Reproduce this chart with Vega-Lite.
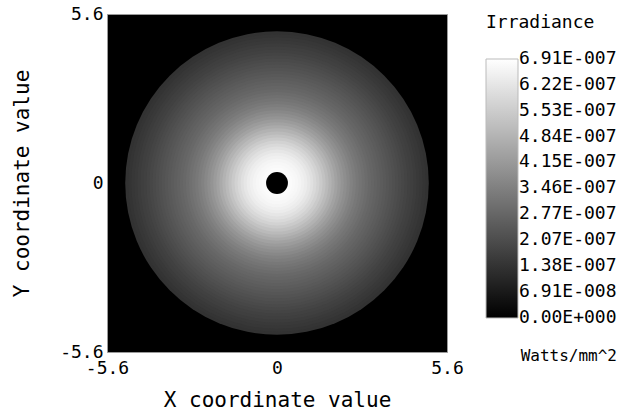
{
  "$schema": "https://vega.github.io/schema/vega-lite/v6.json",
  "width": 340,
  "height": 338,
  "autosize": {"type": "none"},
  "padding": {"left": 107, "top": 14, "right": 193, "bottom": 67},
  "background": "white",
  "title": {
    "text": "Watts/mm^2",
    "orient": "bottom",
    "anchor": "end",
    "frame": "bounds",
    "offset": -62,
    "fontSize": 16,
    "font": "DejaVu Sans Mono",
    "fontWeight": "normal",
    "color": "black"
  },
  "config": {
    "view": {"fill": "black", "stroke": "#9a9a9a", "strokeWidth": 1},
    "font": "DejaVu Sans Mono"
  },
  "data": {
    "values": [
      {"x": 0, "y": 0, "radius": 5.0, "irradiance": 1.355e-7},
      {"x": 0, "y": 0, "radius": 4.9, "irradiance": 1.409e-7},
      {"x": 0, "y": 0, "radius": 4.8, "irradiance": 1.490e-7},
      {"x": 0, "y": 0, "radius": 4.7, "irradiance": 1.545e-7},
      {"x": 0, "y": 0, "radius": 4.6, "irradiance": 1.626e-7},
      {"x": 0, "y": 0, "radius": 4.5, "irradiance": 1.707e-7},
      {"x": 0, "y": 0, "radius": 4.4, "irradiance": 1.761e-7},
      {"x": 0, "y": 0, "radius": 4.3, "irradiance": 1.843e-7},
      {"x": 0, "y": 0, "radius": 4.2, "irradiance": 1.924e-7},
      {"x": 0, "y": 0, "radius": 4.1, "irradiance": 2.005e-7},
      {"x": 0, "y": 0, "radius": 4.0, "irradiance": 2.087e-7},
      {"x": 0, "y": 0, "radius": 3.9, "irradiance": 2.168e-7},
      {"x": 0, "y": 0, "radius": 3.8, "irradiance": 2.249e-7},
      {"x": 0, "y": 0, "radius": 3.7, "irradiance": 2.331e-7},
      {"x": 0, "y": 0, "radius": 3.6, "irradiance": 2.412e-7},
      {"x": 0, "y": 0, "radius": 3.5, "irradiance": 2.493e-7},
      {"x": 0, "y": 0, "radius": 3.4, "irradiance": 2.574e-7},
      {"x": 0, "y": 0, "radius": 3.3, "irradiance": 2.656e-7},
      {"x": 0, "y": 0, "radius": 3.2, "irradiance": 2.737e-7},
      {"x": 0, "y": 0, "radius": 3.1, "irradiance": 2.818e-7},
      {"x": 0, "y": 0, "radius": 3.0, "irradiance": 2.927e-7},
      {"x": 0, "y": 0, "radius": 2.9, "irradiance": 3.035e-7},
      {"x": 0, "y": 0, "radius": 2.8, "irradiance": 3.143e-7},
      {"x": 0, "y": 0, "radius": 2.7, "irradiance": 3.252e-7},
      {"x": 0, "y": 0, "radius": 2.6, "irradiance": 3.387e-7},
      {"x": 0, "y": 0, "radius": 2.5, "irradiance": 3.523e-7},
      {"x": 0, "y": 0, "radius": 2.4, "irradiance": 3.685e-7},
      {"x": 0, "y": 0, "radius": 2.3, "irradiance": 3.848e-7},
      {"x": 0, "y": 0, "radius": 2.2, "irradiance": 4.011e-7},
      {"x": 0, "y": 0, "radius": 2.1, "irradiance": 4.200e-7},
      {"x": 0, "y": 0, "radius": 2.0, "irradiance": 4.390e-7},
      {"x": 0, "y": 0, "radius": 1.9, "irradiance": 4.607e-7},
      {"x": 0, "y": 0, "radius": 1.8, "irradiance": 4.823e-7},
      {"x": 0, "y": 0, "radius": 1.7, "irradiance": 5.040e-7},
      {"x": 0, "y": 0, "radius": 1.6, "irradiance": 5.257e-7},
      {"x": 0, "y": 0, "radius": 1.5, "irradiance": 5.474e-7},
      {"x": 0, "y": 0, "radius": 1.4, "irradiance": 5.691e-7},
      {"x": 0, "y": 0, "radius": 1.3, "irradiance": 5.881e-7},
      {"x": 0, "y": 0, "radius": 1.2, "irradiance": 6.070e-7},
      {"x": 0, "y": 0, "radius": 1.1, "irradiance": 6.233e-7},
      {"x": 0, "y": 0, "radius": 1.0, "irradiance": 6.395e-7},
      {"x": 0, "y": 0, "radius": 0.9, "irradiance": 6.504e-7},
      {"x": 0, "y": 0, "radius": 0.8, "irradiance": 6.612e-7},
      {"x": 0, "y": 0, "radius": 0.7, "irradiance": 6.693e-7},
      {"x": 0, "y": 0, "radius": 0.6, "irradiance": 6.748e-7},
      {"x": 0, "y": 0, "radius": 0.5, "irradiance": 6.802e-7},
      {"x": 0, "y": 0, "radius": 0.4, "irradiance": 6.829e-7},
      {"x": 0, "y": 0, "radius": 0.36, "irradiance": 0}
    ]
  },
  "mark": {"type": "point", "shape": "circle", "filled": true, "opacity": 1, "strokeWidth": 0},
  "encoding": {
    "x": {
      "field": "x",
      "type": "quantitative",
      "scale": {"domain": [-5.6, 5.6], "nice": false, "zero": false},
      "axis": {
        "values": [-5.6, 0, 5.6],
        "title": "X coordinate value",
        "labelExpr": "datum.value == 0 ? '0' : (datum.value < 0 ? '-5.6' : '5.6')",
        "ticks": false,
        "domain": false,
        "grid": false,
        "labelFlush": false,
        "labelOverlap": false,
        "labelBound": false,
        "labelFontSize": 18,
        "labelColor": "black",
        "labelPadding": 7,
        "titleFontSize": 21,
        "titleFontWeight": "normal",
        "titleColor": "black",
        "titlePadding": 12
      }
    },
    "y": {
      "field": "y",
      "type": "quantitative",
      "scale": {"domain": [-5.6, 5.6], "nice": false, "zero": false},
      "axis": {
        "values": [-5.6, 0, 5.6],
        "title": "Y coordinate value",
        "labelExpr": "datum.value == 0 ? '0' : (datum.value < 0 ? '-5.6' : '5.6')",
        "ticks": false,
        "domain": false,
        "grid": false,
        "labelFlush": false,
        "labelOverlap": false,
        "labelBound": false,
        "labelFontSize": 18,
        "labelColor": "black",
        "labelPadding": 4,
        "titleFontSize": 21,
        "titleFontWeight": "normal",
        "titleColor": "black",
        "titlePadding": 27
      }
    },
    "size": {
      "field": "radius",
      "type": "quantitative",
      "scale": {"type": "pow", "exponent": 2, "domain": [0, 5.6], "range": [0, 115600], "zero": true},
      "legend": null
    },
    "color": {
      "field": "irradiance",
      "type": "quantitative",
      "scale": {"domain": [0, 6.91e-7], "range": ["#000000", "#ffffff"], "interpolate": "rgb", "nice": false, "zero": false},
      "legend": {
        "title": "Irradiance",
        "orient": "right",
        "offset": 39,
        "padding": 0,
        "values": [1e-11, 6.91e-8, 1.38e-7, 2.07e-7, 2.77e-7, 3.46e-7, 4.15e-7, 4.84e-7, 5.53e-7, 6.22e-7, 6.9099e-7],
        "labelExpr": "datum.value < 1e-9 ? '0.00E+000' : replace(replace(format(datum.value, '.2e'), 'e-', 'E-00'), 'e+', 'E+00')",
        "gradientLength": 259,
        "gradientThickness": 32,
        "gradientStrokeColor": "#bbbbbb",
        "gradientStrokeWidth": 1,
        "labelFontSize": 18,
        "labelColor": "black",
        "labelOffset": 1,
        "labelOverlap": false,
        "labelLimit": 200,
        "titleFontSize": 18,
        "titleFontWeight": "normal",
        "titleColor": "black",
        "titlePadding": 27
      }
    },
    "order": {"field": "radius", "sort": "descending"}
  }
}
